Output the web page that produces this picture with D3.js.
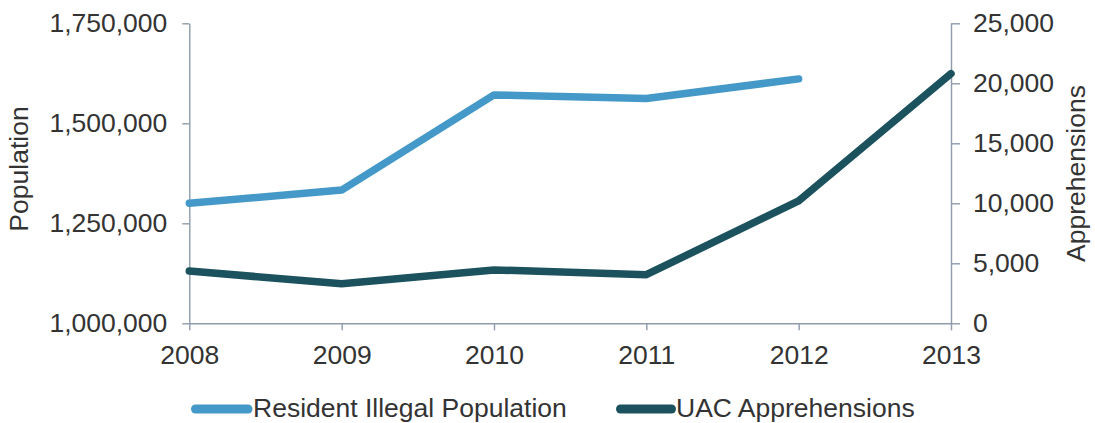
<!DOCTYPE html>
<html>
<head>
<meta charset="utf-8">
<script src="https://cdn.jsdelivr.net/npm/d3@7/dist/d3.min.js"></script>
<style>
  html, body { margin: 0; padding: 0; background: #fff; }
  svg { display: block; }
  text { font-family: "Liberation Sans", Arial, sans-serif; fill: #333; }
</style>
</head>
<body>
<svg id="chart" width="1095" height="423"></svg>
<script>
// Fiscal years on the horizontal axis
const years = ["2008", "2009", "2010", "2011", "2012", "2013"];
// Resident illegal population (left axis); no figure for 2013
const residentPopulation = [1300000, 1333000, 1571000, 1562000, 1611000, null];
// Unaccompanied alien children apprehensions (right axis)
const uacApprehensions = [4350, 3300, 4450, 4050, 10200, 20800];

const leftTicks = [1000000, 1250000, 1500000, 1750000];
const rightTicks = [0, 5000, 10000, 15000, 20000, 25000];

const seriesNames = ["Resident Illegal Population", "UAC Apprehensions"];
const seriesColors = ["#4499c9", "#1c525e"];

const svg = d3.select("#chart");
const plot = { left: 189.3, right: 951, top: 23.3, bottom: 323.3 };
const axisColor = "#8e9bab";
const fontSize = 26.5;

const x = d3.scalePoint().domain(years).range([plot.left, plot.right]);
const yLeft = d3.scaleLinear().domain([1000000, 1750000]).range([plot.bottom, plot.top]);
const yRight = d3.scaleLinear().domain([0, 25000]).range([plot.bottom, plot.top]);
const fmt = d3.format(",");

function styleAxis(g) {
  g.selectAll(".domain, .tick line").attr("stroke", axisColor).attr("stroke-width", 1.4);
  g.selectAll(".tick text").attr("fill", "#333").style("font-size", fontSize + "px")
    .style("font-family", '"Liberation Sans", Arial, sans-serif');
}

svg.append("g")
  .attr("transform", `translate(${plot.left},0)`)
  .call(d3.axisLeft(yLeft).tickValues(leftTicks).tickFormat(fmt).tickSize(7).tickSizeOuter(0).tickPadding(15))
  .call(styleAxis);

svg.append("g")
  .attr("transform", `translate(${plot.right},0)`)
  .call(d3.axisRight(yRight).tickValues(rightTicks).tickFormat(fmt).tickSize(9).tickSizeOuter(0).tickPadding(13))
  .call(styleAxis);

svg.append("g")
  .attr("transform", `translate(0,${plot.bottom})`)
  .call(d3.axisBottom(x).tickSize(7).tickSizeOuter(0).tickPadding(14.5))
  .call(styleAxis);

// Axis titles
svg.append("text")
  .attr("transform", `translate(28,169) rotate(-90)`)
  .attr("text-anchor", "middle")
  .style("font-size", fontSize + "px")
  .text("Population");

svg.append("text")
  .attr("transform", `translate(1085,173.5) rotate(-90)`)
  .attr("text-anchor", "middle")
  .style("font-size", fontSize + "px")
  .text("Apprehensions");

// Series lines
const lineLeft = d3.line()
  .defined(d => d != null)
  .x((d, i) => x(years[i]))
  .y(d => yLeft(d));
const lineRight = d3.line()
  .defined(d => d != null)
  .x((d, i) => x(years[i]))
  .y(d => yRight(d));

svg.append("path")
  .datum(residentPopulation)
  .attr("d", lineLeft)
  .attr("fill", "none")
  .attr("stroke", seriesColors[0])
  .attr("stroke-width", 7.5)
  .attr("stroke-linecap", "round")
  .attr("stroke-linejoin", "round");

svg.append("path")
  .datum(uacApprehensions)
  .attr("d", lineRight)
  .attr("fill", "none")
  .attr("stroke", seriesColors[1])
  .attr("stroke-width", 7.5)
  .attr("stroke-linecap", "round")
  .attr("stroke-linejoin", "round");

// Legend
const legendY = 409;
const legendItems = [
  { x0: 195.5, x1: 248, tx: 253 },
  { x0: 620.5, x1: 671.5, tx: 676 }
];
legendItems.forEach((item, i) => {
  svg.append("line")
    .attr("x1", item.x0).attr("x2", item.x1)
    .attr("y1", legendY).attr("y2", legendY)
    .attr("stroke", seriesColors[i])
    .attr("stroke-width", 9)
    .attr("stroke-linecap", "round");
  svg.append("text")
    .attr("x", item.tx)
    .attr("y", 416.7)
    .style("font-size", fontSize + "px")
    .text(seriesNames[i]);
});
</script>
</body>
</html>
